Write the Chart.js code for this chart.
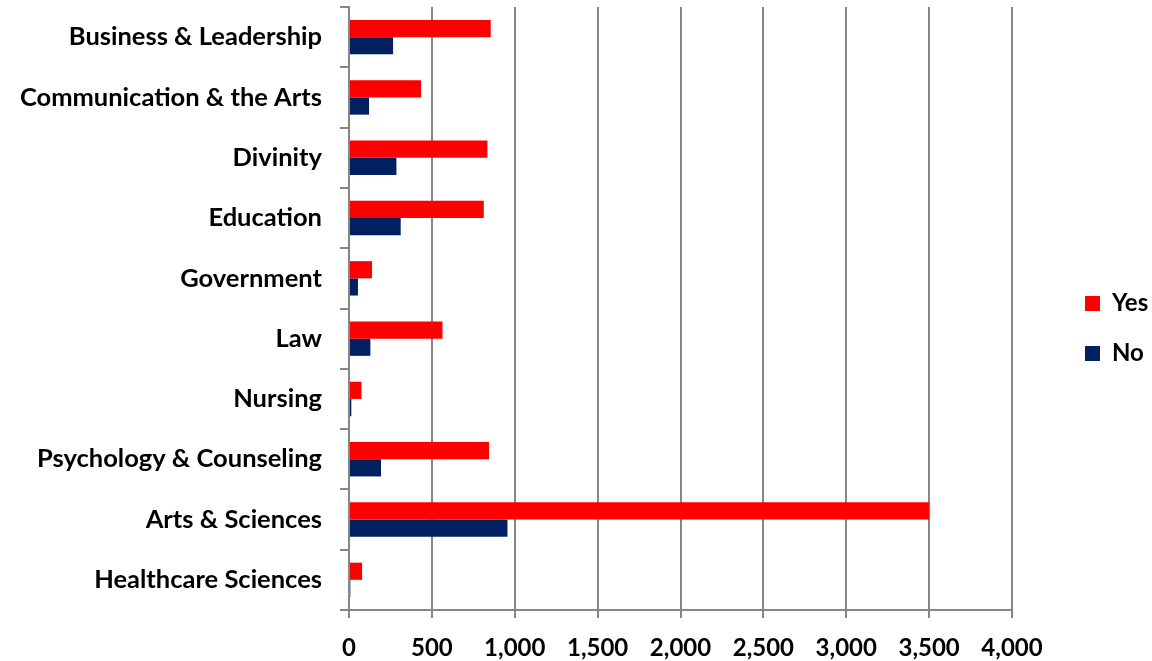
<!DOCTYPE html>
<html>
<head>
<meta charset="utf-8">
<script src="https://cdn.jsdelivr.net/npm/chart.js@4"></script>
<style>
  html, body { margin: 0; padding: 0; background: #fff; }
  #wrap { width: 1152px; height: 661px; }
</style>
</head>
<body>
<div id="wrap"><canvas id="chart" width="1152" height="661"></canvas></div>
<script>
const categories = [
    'Business & Leadership',
    'Communication & the Arts',
    'Divinity',
    'Education',
    'Government',
    'Law',
    'Nursing',
    'Psychology & Counseling',
    'Arts & Sciences',
    'Healthcare Sciences'
];
const yesValues = [855, 435, 835, 813, 139, 564, 75, 845, 3500, 79];
const noValues = [266, 121, 286, 312, 54, 129, 14, 193, 956, 8];
const xTicks = [0, 500, 1000, 1500, 2000, 2500, 3000, 3500, 4000];

const fontFamily = 'Lato, "Liberation Sans", sans-serif';
const gridColor = '#868686';
const legendPadding = 26;

// move the legend block further right than Chart.js puts it
const legendShift = {
    id: 'legendShift',
    afterLayout(chart) {
        const lg = chart.legend;
        lg.left = 1085 - legendPadding;
        lg.right = chart.width;
        lg.width = lg.right - lg.left;
        lg.top -= 2;
        lg.bottom -= 2;
    }
};

const ctx = document.getElementById('chart').getContext('2d');
new Chart(ctx, {
    type: 'bar',
    data: {
        labels: categories,
        datasets: [{
            label: 'Yes',
            data: yesValues,
            backgroundColor: '#ff0000',
            borderWidth: 0
        }, {
            label: 'No',
            data: noValues,
            backgroundColor: '#002060',
            borderWidth: 0
        }]
    },
    plugins: [legendShift],
    options: {
        indexAxis: 'y',
        responsive: false,
        animation: false,
        categoryPercentage: 0.57,
        barPercentage: 1.0,
        layout: {
            padding: 0
        },
        scales: {
            x: {
                min: 0,
                max: 4000,
                afterBuildTicks: function (axis) {
                    axis.ticks = xTicks.map(v => ({ value: v }));
                },
                afterFit: function (axis) {
                    // plot area ends near x = 1012
                    axis.height = 51;
                    axis.paddingRight = 140;
                },
                grid: {
                    color: gridColor,
                    lineWidth: 2,
                    tickLength: 8,
                    drawTicks: true
                },
                border: { color: gridColor, width: 2 },
                ticks: {
                    color: '#000',
                    padding: 16,
                    maxRotation: 0,
                    font: { family: fontFamily, size: 24, weight: 'bold' },
                    callback: v => v.toLocaleString('en-US')
                }
            },
            y: {
                afterFit: function (axis) {
                    axis.width = 349;
                    axis.paddingTop = 7;
                    axis.paddingBottom = 0;
                },
                grid: {
                    display: true,
                    drawOnChartArea: false,
                    color: gridColor,
                    lineWidth: 2,
                    tickLength: 9,
                    offset: true
                },
                border: { color: gridColor, width: 2 },
                ticks: {
                    color: '#000',
                    padding: 18,
                    font: { family: fontFamily, size: 25.5, weight: 'bold' }
                }
            }
        },
        plugins: {
            legend: {
                position: 'right',
                align: 'center',
                labels: {
                    color: '#000',
                    boxWidth: 15,
                    boxHeight: 15,
                    padding: legendPadding,
                    font: { family: fontFamily, size: 24, weight: 'bold' }
                }
            },
            tooltip: { enabled: false }
        }
    }
});
</script>
</body>
</html>
